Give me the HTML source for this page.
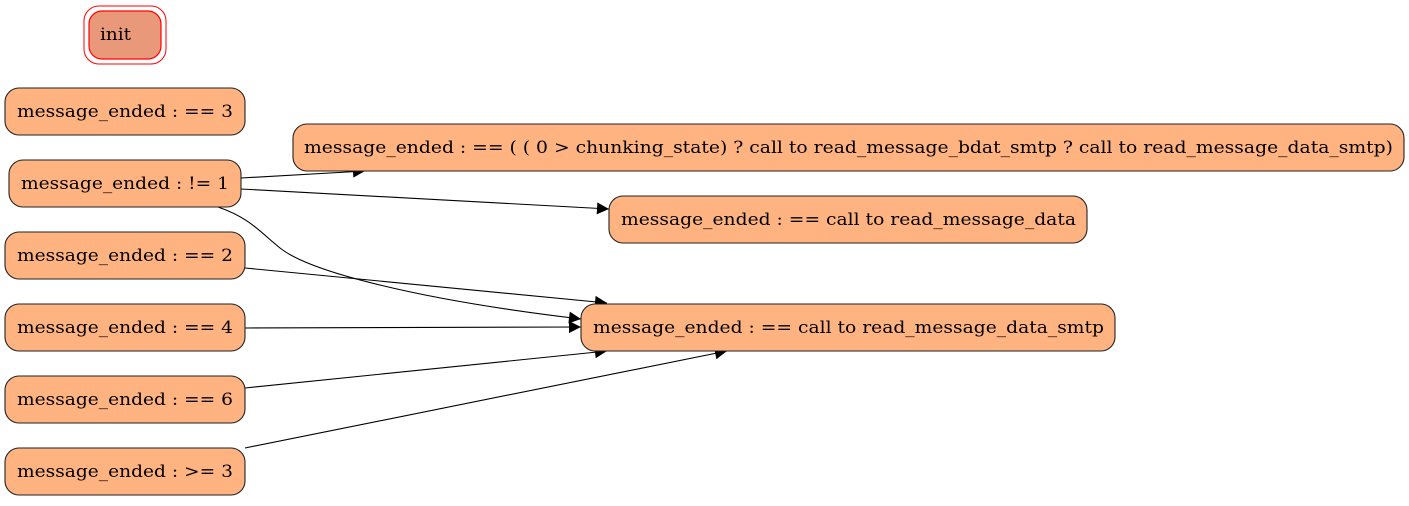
<!DOCTYPE html>
<html><head><meta charset="utf-8"><style>
html,body{margin:0;padding:0;background:#fff;}
svg text{font-family:"DejaVu Serif","Liberation Serif",serif;font-size:17px;fill:#000;}
</style></head><body>
<svg width="1409" height="501" viewBox="0 0 1409 501" xmlns="http://www.w3.org/2000/svg">
<defs><marker id="a" viewBox="0 0 10 10" refX="10" refY="5" markerWidth="26" markerHeight="12" markerUnits="userSpaceOnUse" orient="auto"><path d="M0,0 L10,5 L0,10 z" fill="#000"/></marker></defs>
<g fill="none" stroke="#000" stroke-width="1.1">
<path d="M241,178 L365,171" marker-end="url(#a)"/>
<path d="M241,189 L609,209" marker-end="url(#a)"/>
<path d="M218,207 C250,218 260,232 280,248 C310,272 420,300 581,319" marker-end="url(#a)"/>
<path d="M245,268 L607,303" marker-end="url(#a)"/>
<path d="M245,328 L581,327" marker-end="url(#a)"/>
<path d="M245,388 L607,351" marker-end="url(#a)"/>
<path d="M245,448 L727,351" marker-end="url(#a)"/>
</g>
<rect x="84" y="6" width="82" height="58" rx="15" fill="#fff" stroke="#f00" stroke-width="1"/>
<rect x="89" y="11" width="72" height="48" rx="13" fill="#ea987a" stroke="#f00" stroke-width="1.2"/>
<text x="100" y="40" textLength="31" lengthAdjust="spacingAndGlyphs">init</text>
<g fill="#ffb380" stroke="#222" stroke-width="1.1">
<rect x="5" y="88" width="240" height="47" rx="14"/>
<rect x="9" y="160" width="232" height="47" rx="14"/>
<rect x="293" y="124" width="1111" height="47" rx="14"/>
<rect x="609" y="196" width="478" height="47" rx="14"/>
<rect x="5" y="232" width="240" height="47" rx="14"/>
<rect x="5" y="304" width="240" height="47" rx="14"/>
<rect x="581" y="304" width="534" height="47" rx="14"/>
<rect x="5" y="376" width="240" height="47" rx="14"/>
<rect x="5" y="448" width="240" height="47" rx="14"/>
</g>
<g lengthAdjust="spacingAndGlyphs">
<text x="17" y="117" textLength="216" lengthAdjust="spacingAndGlyphs">message_ended : == 3</text>
<text x="21" y="189" textLength="208" lengthAdjust="spacingAndGlyphs">message_ended : != 1</text>
<text x="304" y="153" textLength="1089" lengthAdjust="spacingAndGlyphs">message_ended : == ( ( 0 &gt; chunking_state) ? call to read_message_bdat_smtp ? call to read_message_data_smtp)</text>
<text x="621" y="225" textLength="455" lengthAdjust="spacingAndGlyphs">message_ended : == call to read_message_data</text>
<text x="17" y="261" textLength="216" lengthAdjust="spacingAndGlyphs">message_ended : == 2</text>
<text x="17" y="333" textLength="216" lengthAdjust="spacingAndGlyphs">message_ended : == 4</text>
<text x="593" y="333" textLength="511" lengthAdjust="spacingAndGlyphs">message_ended : == call to read_message_data_smtp</text>
<text x="17" y="405" textLength="216" lengthAdjust="spacingAndGlyphs">message_ended : == 6</text>
<text x="17" y="477" textLength="216" lengthAdjust="spacingAndGlyphs">message_ended : &gt;= 3</text>
</g>
</svg>
</body></html>
